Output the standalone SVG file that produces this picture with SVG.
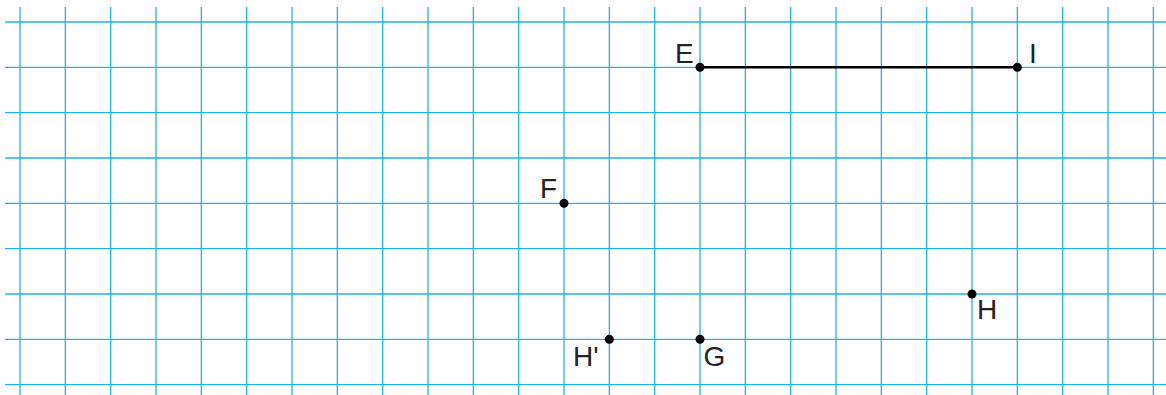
<svg xmlns="http://www.w3.org/2000/svg" width="1166" height="395" viewBox="0 0 1166 395">
<style>
.grid line{stroke:#1fb3ea;stroke-width:1.3}
.lbl{font-family:"Liberation Sans",Arial,sans-serif;font-size:28px;fill:#222}
.pt{fill:#000}
</style>
<rect width="1166" height="395" fill="#fff"/>
<g id="grid" class="grid">
<line x1="20" y1="7" x2="20" y2="395"/>
<line x1="65.33" y1="7" x2="65.33" y2="395"/>
<line x1="110.67" y1="7" x2="110.67" y2="395"/>
<line x1="156" y1="7" x2="156" y2="395"/>
<line x1="201.33" y1="7" x2="201.33" y2="395"/>
<line x1="246.67" y1="7" x2="246.67" y2="395"/>
<line x1="292" y1="7" x2="292" y2="395"/>
<line x1="337.33" y1="7" x2="337.33" y2="395"/>
<line x1="382.67" y1="7" x2="382.67" y2="395"/>
<line x1="428" y1="7" x2="428" y2="395"/>
<line x1="473.33" y1="7" x2="473.33" y2="395"/>
<line x1="518.67" y1="7" x2="518.67" y2="395"/>
<line x1="564" y1="7" x2="564" y2="395"/>
<line x1="609.33" y1="7" x2="609.33" y2="395"/>
<line x1="654.67" y1="7" x2="654.67" y2="395"/>
<line x1="700" y1="7" x2="700" y2="395"/>
<line x1="745.33" y1="7" x2="745.33" y2="395"/>
<line x1="790.67" y1="7" x2="790.67" y2="395"/>
<line x1="836" y1="7" x2="836" y2="395"/>
<line x1="881.33" y1="7" x2="881.33" y2="395"/>
<line x1="926.67" y1="7" x2="926.67" y2="395"/>
<line x1="972" y1="7" x2="972" y2="395"/>
<line x1="1017.33" y1="7" x2="1017.33" y2="395"/>
<line x1="1062.67" y1="7" x2="1062.67" y2="395"/>
<line x1="1108" y1="7" x2="1108" y2="395"/>
<line x1="1153.33" y1="7" x2="1153.33" y2="395"/>
<line x1="5" y1="22" x2="1166" y2="22"/>
<line x1="5" y1="67.33" x2="1166" y2="67.33"/>
<line x1="5" y1="112.67" x2="1166" y2="112.67"/>
<line x1="5" y1="158" x2="1166" y2="158"/>
<line x1="5" y1="203.33" x2="1166" y2="203.33"/>
<line x1="5" y1="248.67" x2="1166" y2="248.67"/>
<line x1="5" y1="294" x2="1166" y2="294"/>
<line x1="5" y1="339.33" x2="1166" y2="339.33"/>
<line x1="5" y1="384.67" x2="1166" y2="384.67"/>
</g>
<g id="connectors">
<line x1="700" y1="67.33" x2="1017.33" y2="67.33" stroke="#000" stroke-width="2.5"/>
</g>
<g id="E"><circle class="pt" cx="700" cy="67.33" r="4.5"/><text class="lbl" x="675" y="62.5">E</text></g>
<g id="I"><circle class="pt" cx="1017.33" cy="67.33" r="4.5"/><text class="lbl" x="1029" y="62.5">I</text></g>
<g id="F"><circle class="pt" cx="564" cy="203.33" r="4.5"/><text class="lbl" x="540" y="197.5">F</text></g>
<g id="H"><circle class="pt" cx="972" cy="294" r="4.5"/><text class="lbl" x="977" y="318.5">H</text></g>
<g id="Hp"><circle class="pt" cx="609.33" cy="339.33" r="4.5"/><text class="lbl" x="573" y="365.5">H'</text></g>
<g id="G"><circle class="pt" cx="700" cy="339.33" r="4.5"/><text class="lbl" x="703.5" y="365.5">G</text></g>
</svg>
